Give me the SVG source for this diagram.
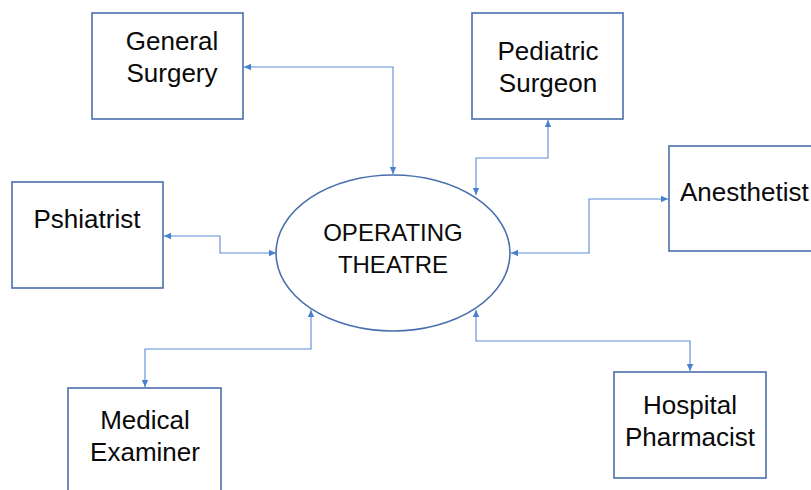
<svg xmlns="http://www.w3.org/2000/svg" width="811" height="490" viewBox="0 0 811 490">
<style>
.box{fill:#fff;stroke:#4a6fae;stroke-width:1.6}
.oval{fill:#fff;stroke:#4a6fae;stroke-width:1.6}
.lbl{font-family:"Liberation Sans",Arial,sans-serif;font-size:26px;fill:#0a0a0a;text-anchor:middle}
.con{fill:none;stroke:#5b8bd8;stroke-width:1.1;marker-start:url(#ah);marker-end:url(#ah)}
</style>
<defs>
<marker id="ah" markerUnits="userSpaceOnUse" markerWidth="8" markerHeight="8" refX="7" refY="4" orient="auto-start-reverse">
<path d="M0,0.8 L7,4 L0,7.2 Z" fill="#4a7fd0"/>
</marker>
</defs>
<rect width="811" height="490" fill="#fff"/>
<g id="connectors">
<path class="con" d="M393,174 V67 H244"/>
<path class="con" d="M476,195 V158 H548 V120"/>
<path class="con" d="M511,253 H589 V199 H668"/>
<path class="con" d="M276,253 H220 V236 H164"/>
<path class="con" d="M311,310 V349 H145 V387"/>
<path class="con" d="M476,310 V341 H690 V371"/>
</g>
<g id="general-surgery">
<rect class="box" x="92" y="13" width="151" height="106"/>
<text class="lbl" x="172" y="50">General</text>
<text class="lbl" x="172" y="82">Surgery</text>
</g>
<g id="pediatric-surgeon">
<rect class="box" x="472" y="13" width="151" height="106"/>
<text class="lbl" x="548" y="60">Pediatric</text>
<text class="lbl" x="548" y="92">Surgeon</text>
</g>
<g id="anesthetist">
<rect class="box" x="669" y="146" width="150" height="105"/>
<text class="lbl" x="680" y="201" style="text-anchor:start">Anesthetist</text>
</g>
<g id="pshiatrist">
<rect class="box" x="12" y="182" width="151" height="106"/>
<text class="lbl" x="87" y="228">Pshiatrist</text>
</g>
<g id="operating-theatre">
<ellipse class="oval" cx="393" cy="253" rx="117" ry="78"/>
<text class="lbl" x="393" y="241" style="font-size:24px">OPERATING</text>
<text class="lbl" x="393" y="273" style="font-size:24px">THEATRE</text>
</g>
<g id="medical-examiner">
<rect class="box" x="68" y="388" width="153" height="110"/>
<text class="lbl" x="145" y="429">Medical</text>
<text class="lbl" x="145" y="461">Examiner</text>
</g>
<g id="hospital-pharmacist">
<rect class="box" x="614" y="372" width="152" height="106"/>
<text class="lbl" x="690" y="414">Hospital</text>
<text class="lbl" x="690" y="446">Pharmacist</text>
</g>
</svg>
